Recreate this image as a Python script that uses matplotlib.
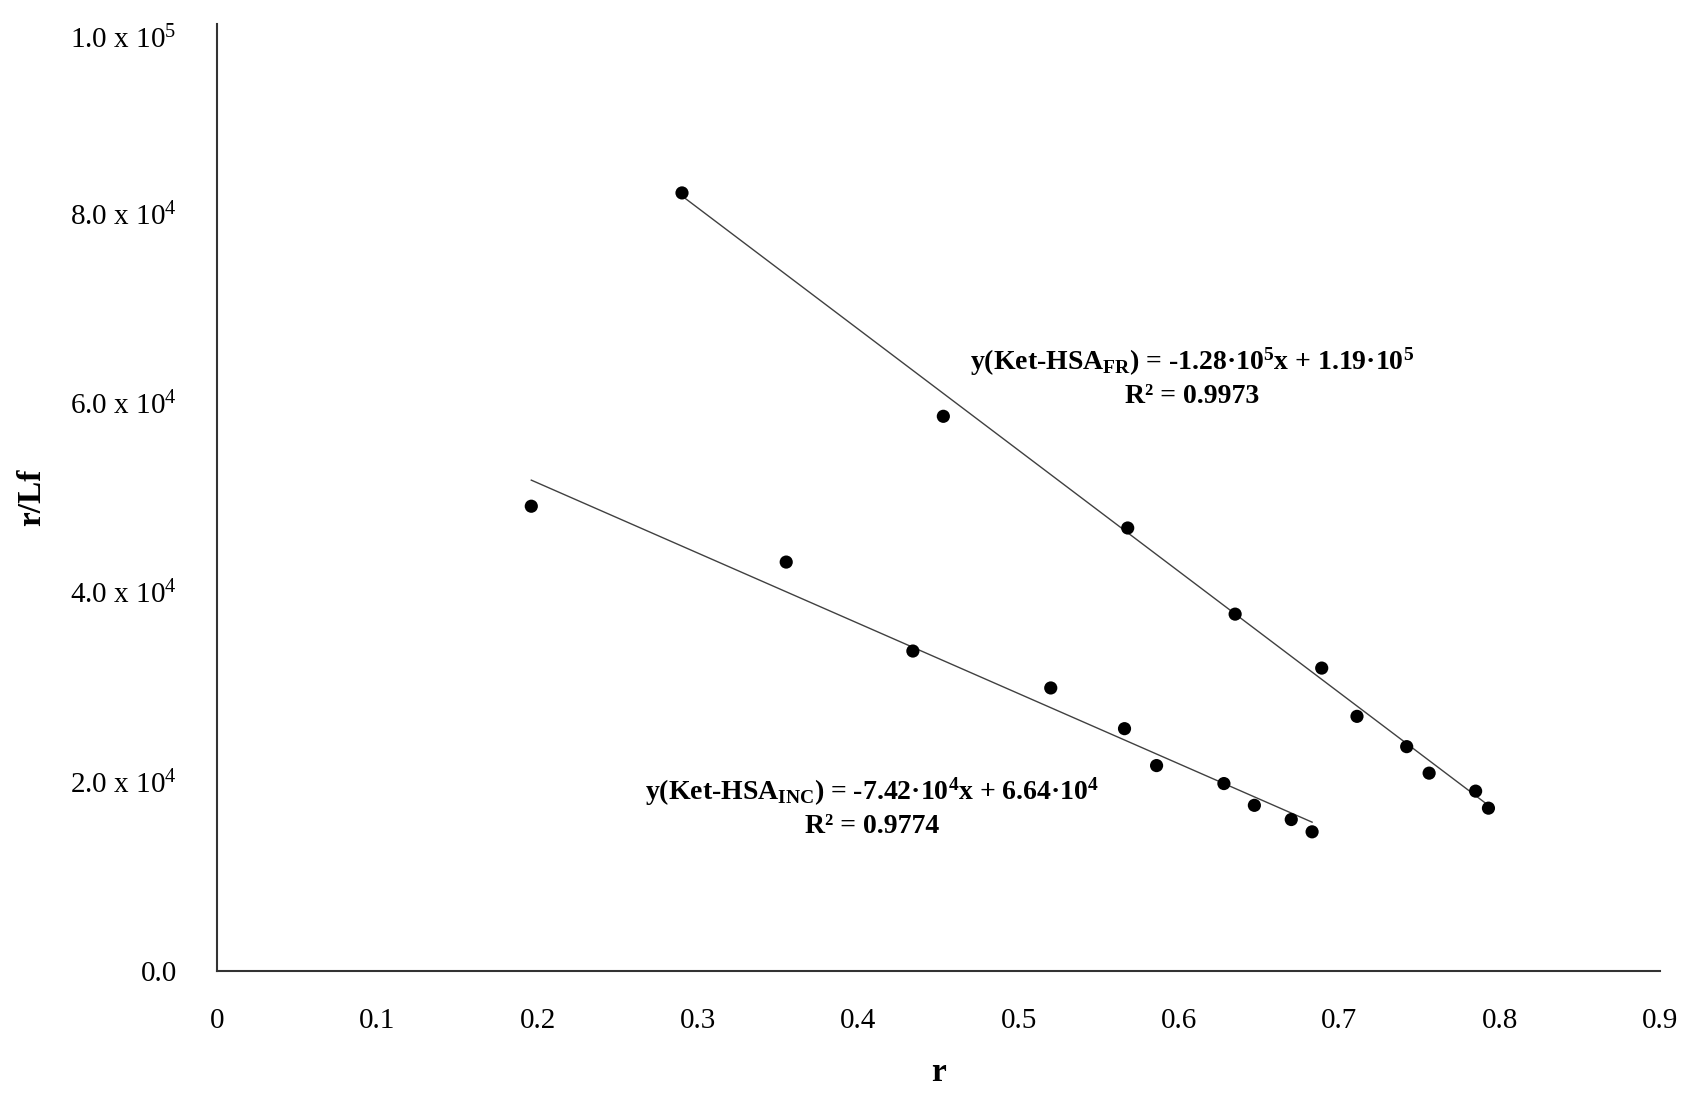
import matplotlib
matplotlib.use('Agg')
import matplotlib.pyplot as plt
import matplotlib.transforms as mtransforms
import numpy as np

plt.rcParams['font.family'] = ['Liberation Serif', 'DejaVu Serif']
plt.rcParams['mathtext.fontset'] = 'custom'
plt.rcParams['mathtext.rm'] = 'Liberation Serif'
plt.rcParams['mathtext.it'] = 'Liberation Serif:italic'
plt.rcParams['mathtext.bf'] = 'Liberation Serif:bold'

# Ket-HSA FR series
r_fr = [0.290, 0.453, 0.568, 0.635, 0.689, 0.711, 0.742, 0.756, 0.785, 0.793]
rlf_fr = [82200, 58600, 46800, 37700, 32000, 26900, 23700, 20900, 19000, 17200]

# Ket-HSA INC series
r_inc = [0.196, 0.355, 0.434, 0.520, 0.566, 0.586, 0.628, 0.647, 0.670, 0.683]
rlf_inc = [49100, 43200, 33800, 29900, 25600, 21700, 19800, 17500, 16000, 14700]

# trend line coefficients (slope, intercept)
fit_fr = (-1.28e5, 1.19e5)
fit_inc = (-7.42e4, 6.64e4)

eq_fr = 'y(Ket-HSA$_{\\mathbf{FR}}$) = -1.28·10$^{\\mathbf{5}}$x + 1.19·10$^{\\mathbf{5}}$\nR² = 0.9973'
eq_inc = 'y(Ket-HSA$_{\\mathbf{INC}}$) = -7.42·10$^{\\mathbf{4}}$x + 6.64·10$^{\\mathbf{4}}$\nR² = 0.9774'

x_ticks = [0, 0.1, 0.2, 0.3, 0.4, 0.5, 0.6, 0.7, 0.8, 0.9]
x_labels = ['0', '0.1', '0.2', '0.3', '0.4', '0.5', '0.6', '0.7', '0.8', '0.9']
y_ticks = [0, 20000, 40000, 60000, 80000, 100000]
y_labels = ['0.0', '2.0 x 10$^{4}$', '4.0 x 10$^{4}$', '6.0 x 10$^{4}$',
            '8.0 x 10$^{4}$', '1.0 x 10$^{5}$']

fig = plt.figure(figsize=(17.01, 11.01), dpi=100)
ax = fig.add_axes([0.1276, 0.1181, 0.8483, 0.8597])

for xs, ys, (m, b) in [(r_fr, rlf_fr, fit_fr), (r_inc, rlf_inc, fit_inc)]:
    xx = np.array([min(xs), max(xs)])
    ax.plot(xx, m * xx + b, color='#404040', lw=1.0, zorder=2)
    ax.scatter(xs, ys, s=90, color='black', edgecolors='none', zorder=3)

ax.text(0.6083, 62700, eq_fr, ha='center', va='center', fontsize=20,
        fontweight='bold', linespacing=1.3)
ax.text(0.4087, 17300, eq_inc, ha='center', va='center', fontsize=20,
        fontweight='bold', linespacing=1.3)

ax.set_xlim(0, 0.9)
ax.set_ylim(0, 100000)
ax.set_xticks(x_ticks)
ax.set_xticklabels(x_labels, fontsize=21)
ax.set_yticks(y_ticks)
ax.set_yticklabels(y_labels, fontsize=21)
ax.tick_params(length=0)
ax.tick_params(axis='y', pad=29)
ax.tick_params(axis='x', pad=27)

# top label sits a little lower, as in the original
top = ax.get_yticklabels()[-1]
top.set_transform(top.get_transform() + mtransforms.ScaledTranslation(0, -9 / 72, fig.dpi_scale_trans))

for side in ['top', 'right']:
    ax.spines[side].set_visible(False)
for side in ['left', 'bottom']:
    ax.spines[side].set_color('#333333')
    ax.spines[side].set_linewidth(1.5)

ax.set_xlabel('r', fontsize=24, fontweight='bold', labelpad=16)
ax.set_ylabel('r/Lf', fontsize=24, fontweight='bold')
ax.yaxis.set_label_coords(-0.118, 0.5)

fig.savefig('out.png', dpi=100)
